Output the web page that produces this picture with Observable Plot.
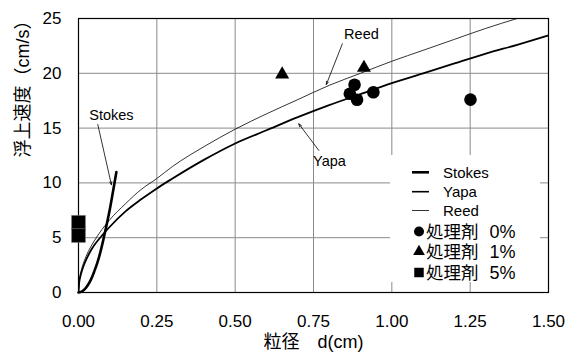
<!DOCTYPE html>
<html>
<head>
<meta charset="utf-8">
<script src="https://cdn.jsdelivr.net/npm/d3@7"></script>
<script src="https://cdn.jsdelivr.net/npm/@observablehq/plot@0.6"></script>
<style>
  html, body { margin: 0; padding: 0; background: #fff; }
  #chart { position: relative; width: 566px; height: 354px; }
</style>
</head>
<body>
<div id="chart"></div>
<script>
// ---- data ----
const xTicks = [0, 0.25, 0.5, 0.75, 1.0, 1.25, 1.5];
const yTicks = [0, 5, 10, 15, 20, 25];

const stokesD = [0, 0.01, 0.02, 0.03, 0.04, 0.05, 0.06, 0.07, 0.08, 0.09, 0.10, 0.11, 0.121];
const stokesV = [0, 0.08, 0.3, 0.68, 1.2, 1.9, 2.7, 3.7, 4.9, 6.2, 7.6, 9.2, 11.0];

const yapaD = [0, 0.002, 0.005, 0.01, 0.02, 0.035, 0.05, 0.075, 0.1, 0.15, 0.2, 0.25, 0.3, 0.4, 0.5, 0.6, 0.7, 0.8, 0.9, 1.0, 1.1, 1.2, 1.3, 1.4, 1.5];
const yapaV = [0, 0.85, 1.35, 1.9, 2.7, 3.6, 4.3, 5.2, 6.0, 7.4, 8.5, 9.5, 10.4, 12.1, 13.6, 14.8, 16.0, 17.1, 18.1, 19.1, 20.0, 20.9, 21.8, 22.6, 23.45];

const reedD = [0, 0.002, 0.005, 0.01, 0.02, 0.035, 0.05, 0.075, 0.1, 0.15, 0.2, 0.25, 0.3, 0.4, 0.5, 0.6, 0.7, 0.8, 0.9, 1.0, 1.1, 1.2, 1.3, 1.4];
const reedV = [0, 1.0, 1.55, 2.15, 3.0, 3.95, 4.7, 5.75, 6.65, 8.1, 9.4, 10.4, 11.5, 13.3, 14.9, 16.3, 17.6, 18.9, 20.0, 21.1, 22.1, 23.1, 24.1, 25.0];

const p0D = [0.866, 0.881, 0.889, 0.941, 1.251];
const p0V = [18.13, 18.95, 17.58, 18.27, 17.6];
const p1D = [0.650, 0.911];
const p1V = [19.9, 20.5];
const p5D = [0, 0];
const p5V = [6.4, 5.2];

const noteText = ["Reed", "Yapa", "Stokes"];
const noteD = [0.903, 0.801, 0.105];
const noteV = [23.54, 11.98, 16.15];
const arrowD1 = [0.842, 0.767, 0.0616];
const arrowV1 = [22.69, 12.96, 15.33];
const arrowD2 = [0.791, 0.703, 0.105];
const arrowV2 = [18.98, 15.39, 9.83];

const xLabel = "粒径　d(cm)";
const yLabel = "浮上速度（cm/s）";
const legendLabels = ["Stokes", "Yapa", "Reed", "処理剤", "処理剤", "処理剤"];
const legendPct = ["", "", "", "0%", "1%", "5%"];

// ---- build tables ----
const zip = (xs, ys) => xs.map((x, i) => ({x, y: ys[i]}));
const stokes = zip(stokesD, stokesV);
const yapa = zip(yapaD, yapaV);
const reed = zip(reedD, reedV);
const pts0 = zip(p0D, p0V);
const pts1 = zip(p1D, p1V);
const pts5 = zip(p5D, p5V);
const notes = noteText.map((t, i) => ({t, x: noteD[i], y: noteV[i]}));
const arrows = arrowD1.map((d, i) => ({x1: d, y1: arrowV1[i], x2: arrowD2[i], y2: arrowV2[i]}));

const FONT = "'Liberation Sans', Arial, 'Noto Sans CJK JP', sans-serif";

const svg = Plot.plot({
  width: 566,
  height: 354,
  marginLeft: 78,
  marginRight: 18,
  marginTop: 18,
  marginBottom: 62,
  style: {fontFamily: FONT, fontSize: "17px", background: "#fff", color: "#000"},
  x: {domain: [0, 1.5]},
  y: {domain: [0, 25]},
  marks: [
    Plot.gridX(xTicks, {stroke: "#8a8a8a", strokeOpacity: 1, strokeWidth: 1}),
    Plot.gridY(yTicks, {stroke: "#8a8a8a", strokeOpacity: 1, strokeWidth: 1}),
    Plot.frame({stroke: "#000", strokeWidth: 1.2}),
    Plot.line(reed, {x: "x", y: "y", stroke: "#000", strokeWidth: 0.8, curve: "monotone-x", clip: true}),
    Plot.line(yapa, {x: "x", y: "y", stroke: "#000", strokeWidth: 1.8, curve: "monotone-x", clip: true}),
    Plot.line(stokes, {x: "x", y: "y", stroke: "#000", strokeWidth: 2.6, curve: "monotone-x"}),
    Plot.dot(pts0, {x: "x", y: "y", r: 6.3, fill: "#000", symbol: "circle"}),
    Plot.dot(pts1, {x: "x", y: "y", r: 5.2, fill: "#000", symbol: "triangle"}),
    Plot.dot(pts5, {x: "x", y: "y", r: 7.8, fill: "#000", symbol: "square", stroke: "#777", strokeWidth: 0.6}),
    Plot.arrow(arrows, {x1: "x1", y1: "y1", x2: "x2", y2: "y2", stroke: "#000", strokeWidth: 0.8, headLength: 6, headAngle: 40}),
    Plot.text(notes, {x: "x", y: "y", text: "t", fontSize: 14.5, fill: "#000"}),
    Plot.axisX({ticks: xTicks, tickFormat: d3.format(".2f"), tickSize: 0, tickPadding: 22, label: null, fontSize: 17}),
    Plot.axisY({ticks: yTicks, tickSize: 0, tickPadding: 17, label: null, fontSize: 17}),
    Plot.text([xLabel], {frameAnchor: "bottom", dy: 55, fontSize: 18, fill: "#000"}),
    Plot.text([yLabel], {frameAnchor: "left", dx: -55, dy: 2, rotate: -90, fontSize: 18, fill: "#000"})
  ]
});

// ---- legend (inside plot, white box) ----
const g = d3.select(svg).append("g")
  .attr("font-family", FONT)
  .attr("text-anchor", "start");
g.append("rect").attr("x", 390).attr("y", 155).attr("width", 150).attr("height", 127)
  .attr("fill", "#ffffff").attr("stroke", "none");
const rowY = [172.3, 191.7, 210.5, 231.5, 251.5, 272.5];
const lineW = [2.6, 1.6, 0.8];
legendLabels.forEach((lab, i) => {
  const y = rowY[i];
  if (i < 3) {
    g.append("line").attr("x1", 412).attr("x2", 429).attr("y1", y).attr("y2", y)
      .attr("stroke", "#000").attr("stroke-width", lineW[i]);
    g.append("text").attr("x", 443).attr("y", y).attr("dy", "0.35em")
      .attr("text-anchor", "start")
      .attr("font-size", 15).attr("fill", "#000").text(lab);
  } else {
    const sym = [d3.symbolCircle, d3.symbolTriangle, d3.symbolSquare][i - 3];
    const size = [80, 60, 90][i - 3];
    g.append("path").attr("d", d3.symbol(sym, size)()).attr("transform", `translate(419,${y})`).attr("fill", "#000");
    const t = g.append("text").attr("x", 426).attr("y", y).attr("dy", "0.36em")
      .attr("text-anchor", "start").attr("fill", "#000");
    t.append("tspan").attr("font-size", 17.5).text(lab);
    t.append("tspan").attr("font-size", 18).attr("dx", 11).text(legendPct[i]);
  }
});

document.getElementById("chart").appendChild(svg);
</script>
</body>
</html>
